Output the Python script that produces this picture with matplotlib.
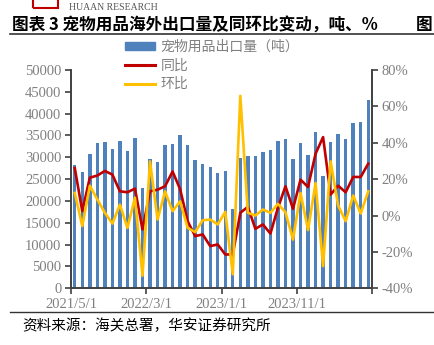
import matplotlib
matplotlib.use('Agg')
import matplotlib.pyplot as plt
import numpy as np
from matplotlib.lines import Line2D
from matplotlib.patches import Patch, Rectangle

plt.rcParams['font.family'] = ['Noto Sans CJK SC', 'DejaVu Sans']

# 月份：2021/5 - 2024/8
months = ['2021/5/1', '2021/6/1', '2021/7/1', '2021/8/1', '2021/9/1', '2021/10/1',
          '2021/11/1', '2021/12/1', '2022/1/1', '2022/2/1', '2022/3/1', '2022/4/1',
          '2022/5/1', '2022/6/1', '2022/7/1', '2022/8/1', '2022/9/1', '2022/10/1',
          '2022/11/1', '2022/12/1', '2023/1/1', '2023/2/1', '2023/3/1', '2023/4/1',
          '2023/5/1', '2023/6/1', '2023/7/1', '2023/8/1', '2023/9/1', '2023/10/1',
          '2023/11/1', '2023/12/1', '2024/1/1', '2024/2/1', '2024/3/1', '2024/4/1',
          '2024/5/1', '2024/6/1', '2024/7/1', '2024/8/1']

# 宠物用品出口量（吨）
export_vol = [28244, 26565, 30763, 33359, 33435, 31908, 33740, 31450, 34427, 22977,
              29618, 28931, 32748, 32977, 35191, 32748, 29466, 28550, 27863, 26380,
              26870, 18092, 29924, 30229, 30229, 31221, 31679, 33740, 34122, 29542,
              33170, 30460, 35800, 25800, 33400, 35230, 34100, 37790, 38090, 43130]

# 同比 %
yoy = [26.1, 2.4, 20.8, 22.0, 24.5, 22.5, 13.3, 12.8, 14.8, -7.7,
       13.3, 14.2, 16.1, 24.2, 14.5, -3.1, -11.3, -10.4, -16.8, -15.9,
       -21.4, -21.4, 1.5, 4.8, -7.3, -4.9, -9.9, 4.2, 16.1, 3.7,
       19.7, 15.7, 34.0, 43.1, 11.5, 16.4, 12.8, 21.2, 21.2, 28.5]

# 环比 %
mom = [12.4, -5.8, 16.4, 8.8, 1.5, -4.4, 6.0, -6.8, 9.8, -33.1,
       29.8, -2.2, 13.3, 2.4, 7.8, -6.8, -9.1, -2.6, -2.2, -4.9,
       2.0, -32.3, 65.8, 1.5, 0.0, 3.3, 1.5, 6.4, 1.8, -13.2,
       12.4, -8.0, 17.9, -27.8, 29.8, 5.5, -3.1, 11.0, 1.1, 13.3]

BLUE = '#4F81BD'
RED = '#C00000'
YELLOW = '#FFC000'
GRAY = '#808080'
AXIS = '#404040'
serif = 'Liberation Serif'

fig = plt.figure(figsize=(4.34, 3.45), dpi=100)
ax = fig.add_axes([71 / 434, 1 - 288.3 / 345, 301 / 434, 218.3 / 345])
ax2 = ax.twinx()

x = np.arange(len(months))
ax.bar(x, export_vol, width=0.45, color=BLUE, zorder=2)
ax2.plot(x, yoy, color=RED, lw=1.9, zorder=3)
ax2.plot(x, mom, color=YELLOW, lw=1.9, zorder=4)

ax.set_xlim(-0.5, len(months) - 0.5)
ax.set_ylim(0, 50000)
ax.set_yticks(np.arange(0, 50001, 5000))
ax2.set_ylim(-40, 80)
ax2.set_yticks(np.arange(-40, 81, 20))
ax2.set_yticklabels([f'{v}%' for v in range(-40, 81, 20)])

tick_pos = [-0.5, 9.5, 19.5, 29.5, 39.5]
ax.set_xticks(tick_pos)
ax.set_xticklabels([months[0], months[10], months[20], months[30], ''])

for a in (ax, ax2):
    a.spines['top'].set_visible(False)
    for s in a.spines.values():
        s.set_color(AXIS)
        s.set_linewidth(1.2)
    a.tick_params(colors=AXIS, labelcolor=GRAY, length=4, width=1.2)
    for lab in a.get_yticklabels() + a.get_xticklabels():
        lab.set_fontfamily(serif)
        lab.set_fontsize(10.5)
ax.tick_params(axis='x', pad=3)
ax.tick_params(axis='y', pad=3)
ax2.tick_params(axis='y', pad=3)
ax2.set_zorder(ax.get_zorder() + 1)
ax2.patch.set_visible(False)

# 图例
handles = [Patch(color=BLUE), Line2D([], [], color=RED, lw=2.2),
           Line2D([], [], color=YELLOW, lw=2.2)]
labels = ['宠物用品出口量（吨）', '同比', '环比']
fig.legend(handles, labels, loc='upper left', bbox_to_anchor=(112 / 434, 1 - 27 / 345),
           frameon=False, fontsize=10, handlelength=2.2, handleheight=0.5,
           handletextpad=0.4, labelspacing=0.35, labelcolor=GRAY)

# 页眉
fig.patches.append(Rectangle((33 / 434, 1 - 8 / 345), 25 / 434, 10 / 345,
                             transform=fig.transFigure, fill=False,
                             edgecolor='#C00000', lw=1.5))
fig.text(69 / 434, 1 - 10 / 345, 'HUAAN RESEARCH', fontsize=7, family=serif,
         color='#555555', va='baseline')
fig.text(12 / 434, 1 - 30 / 345, '图表 3 宠物用品海外出口量及同环比变动，吨、%',
         fontsize=12, fontweight='bold', color='black', va='baseline')
fig.text(416 / 434, 1 - 30 / 345, '图', fontsize=12, fontweight='bold',
         color='black', va='baseline')
fig.add_artist(Line2D([10 / 434, 1], [1 - 34 / 345] * 2, color='#333333', lw=1.2))

# 页脚
fig.add_artist(Line2D([10 / 434, 1], [1 - 312 / 345] * 2, color='#333333', lw=1.0))
fig.text(22 / 434, 1 - 330 / 345, '资料来源：海关总署，华安证券研究所',
         fontsize=10.5, color='black', va='baseline')

fig.savefig('out.png', dpi=100)
